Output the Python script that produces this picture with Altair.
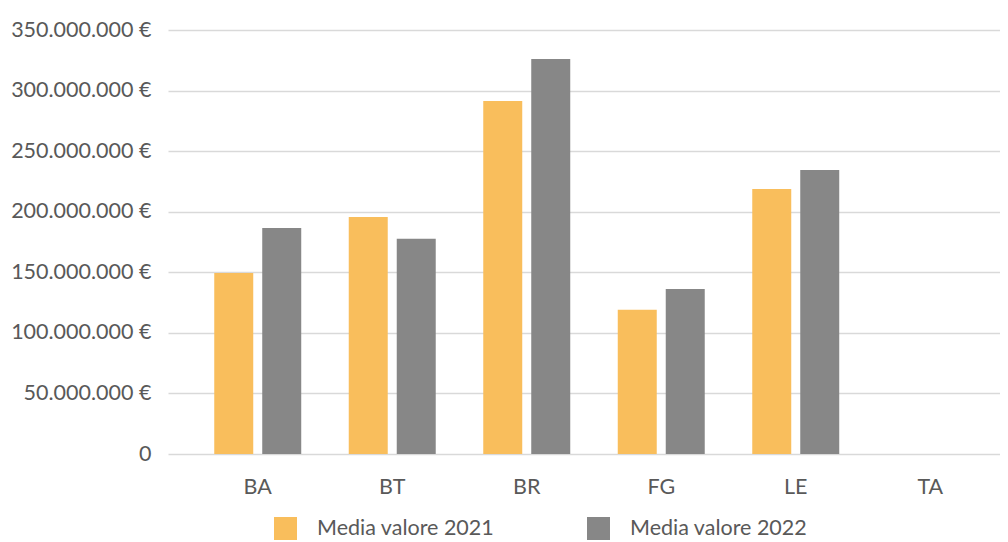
import altair as alt
import pandas as pd

provinces = ["BA", "BT", "BR", "FG", "LE", "TA"]
series_names = ["Media valore 2021", "Media valore 2022"]
values_2021 = [149500000, 195700000, 291400000, 119000000, 218800000, 0]
values_2022 = [186600000, 177600000, 326100000, 136300000, 234500000, 0]
y_ticks = [0, 50000000, 100000000, 150000000, 200000000, 250000000, 300000000, 350000000]
colors = ["#F9BE5C", "#878787"]

rows = []
for p, a, b in zip(provinces, values_2021, values_2022):
    rows.append({"prov": p, "serie": series_names[0], "valore": a})
    rows.append({"prov": p, "serie": series_names[1], "valore": b})
df = pd.DataFrame(rows)

font = "Lato"
txt = "#595959"

label_expr = "datum.value == 0 ? '0' : replace(format(datum.value, ','), regexp(',', 'g'), '.') + ' €'"

chart = alt.Chart(df).mark_bar().encode(
    x=alt.X("prov:N", sort=provinces, title=None,
            scale=alt.Scale(paddingInner=0, paddingOuter=0.0929, align=0.9),
            axis=alt.Axis(labelAngle=0, labelFont=font, labelFontSize=21.5, labelColor=txt,
                          ticks=False, domain=False, labelPadding=22, grid=False)),
    xOffset=alt.XOffset("serie:N", sort=series_names,
                        scale=alt.Scale(paddingInner=0.1875, paddingOuter=0.495)),
    y=alt.Y("valore:Q", title=None,
            scale=alt.Scale(domain=[0, 350000000], nice=False),
            axis=alt.Axis(values=y_ticks, labelExpr=label_expr, labelFont=font, labelFontSize=21.5,
                          labelColor=txt, ticks=False, domain=False, labelPadding=17,
                          grid=True, gridColor="#D9D9D9", gridWidth=1.5)),
    color=alt.Color("serie:N", sort=series_names,
                    scale=alt.Scale(domain=series_names, range=colors),
                    legend=alt.Legend(title=None, orient="none", direction="horizontal",
                                      legendX=106, legendY=487, symbolType="square",
                                      symbolSize=529, symbolStrokeWidth=0, symbolOpacity=1,
                                      labelFont=font, labelFontSize=21.5, labelColor=txt,
                                      labelLimit=400, labelOffset=20, columnPadding=92,
                                      padding=0)),
).properties(
    width=832, height=424,
    autosize=alt.AutoSizeParams(type="none"),
    padding={"left": 160, "top": 22, "right": 0, "bottom": 88},
).configure_view(stroke=None)

chart.save("out.html", embed_options={"renderer": "svg", "actions": False})
